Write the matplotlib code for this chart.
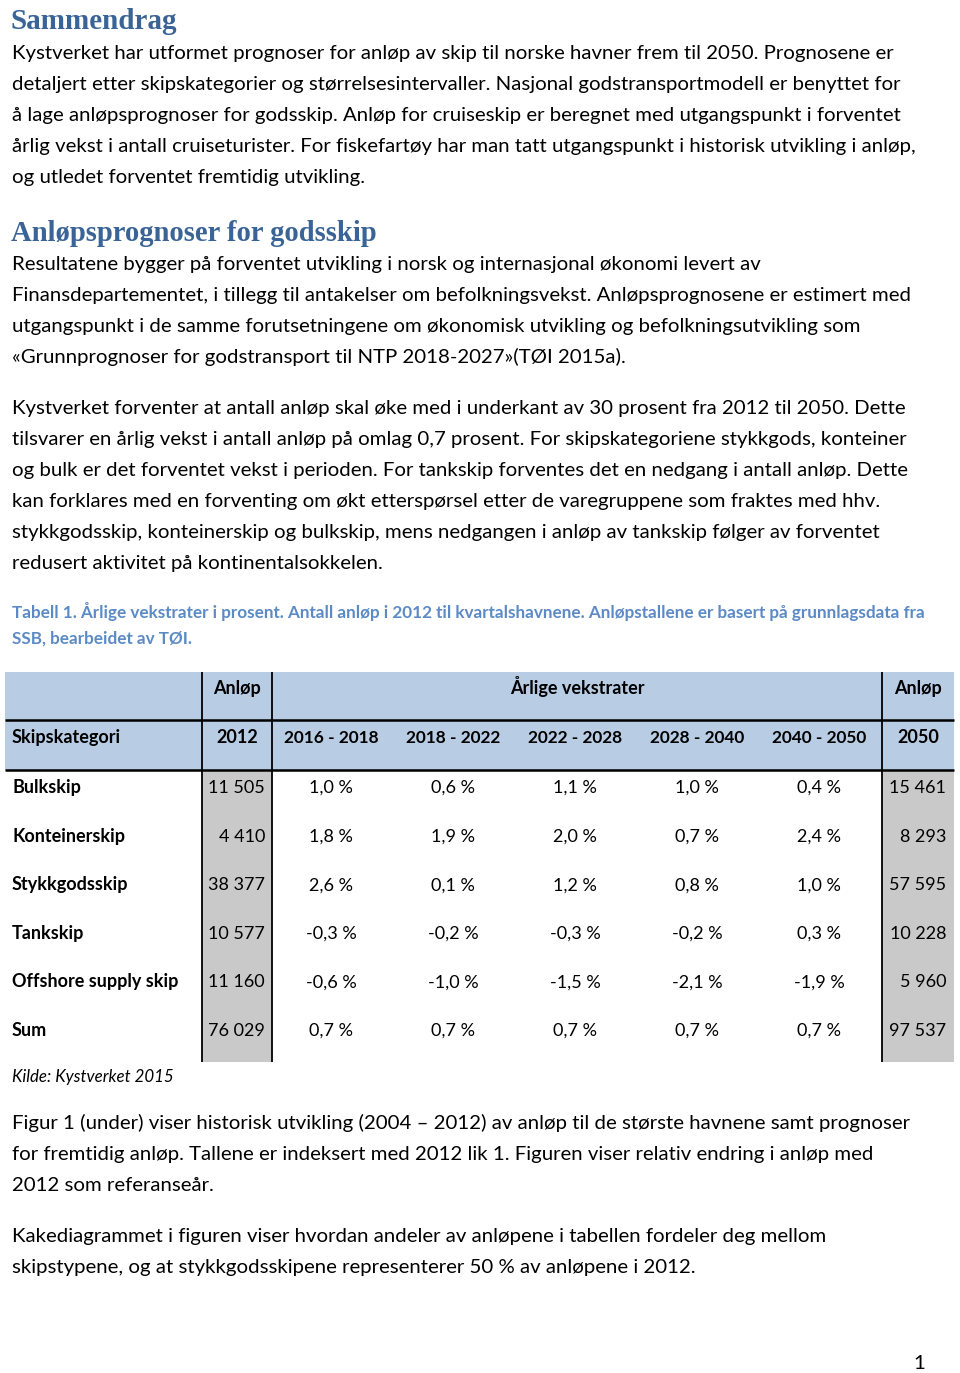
import matplotlib.pyplot as plt
from matplotlib.patches import Rectangle

W, H = 960, 1373
BODY = "Lato"
HEAD = "Liberation Serif"
HEAD_BLUE = "#3a6496"
CAP_BLUE = "#5b8ac5"

# table data
periods = ["2016 - 2018", "2018 - 2022", "2022 - 2028", "2028 - 2040", "2040 - 2050"]
categories = ["Bulkskip", "Konteinerskip", "Stykkgodsskip", "Tankskip",
              "Offshore supply skip", "Sum"]
anlop_2012 = [11505, 4410, 38377, 10577, 11160, 76029]
growth = [
    [1.0, 0.6, 1.1, 1.0, 0.4],
    [1.8, 1.9, 2.0, 0.7, 2.4],
    [2.6, 0.1, 1.2, 0.8, 1.0],
    [-0.3, -0.2, -0.3, -0.2, 0.3],
    [-0.6, -1.0, -1.5, -2.1, -1.9],
    [0.7, 0.7, 0.7, 0.7, 0.7],
]
anlop_2050 = [15461, 8293, 57595, 10228, 5960, 97537]

para1 = [
    "Kystverket har utformet prognoser for anløp av skip til norske havner frem til 2050. Prognosene er",
    "detaljert etter skipskategorier og størrelsesintervaller. Nasjonal godstransportmodell er benyttet for",
    "å lage anløpsprognoser for godsskip. Anløp for cruiseskip er beregnet med utgangspunkt i forventet",
    "årlig vekst i antall cruiseturister. For fiskefartøy har man tatt utgangspunkt i historisk utvikling i anløp,",
    "og utledet forventet fremtidig utvikling.",
]
para2 = [
    "Resultatene bygger på forventet utvikling i norsk og internasjonal økonomi levert av",
    "Finansdepartementet, i tillegg til antakelser om befolkningsvekst. Anløpsprognosene er estimert med",
    "utgangspunkt i de samme forutsetningene om økonomisk utvikling og befolkningsutvikling som",
    "«Grunnprognoser for godstransport til NTP 2018-2027»(TØI 2015a).",
]
para3 = [
    "Kystverket forventer at antall anløp skal øke med i underkant av 30 prosent fra 2012 til 2050. Dette",
    "tilsvarer en årlig vekst i antall anløp på omlag 0,7 prosent. For skipskategoriene stykkgods, konteiner",
    "og bulk er det forventet vekst i perioden. For tankskip forventes det en nedgang i antall anløp. Dette",
    "kan forklares med en forventing om økt etterspørsel etter de varegruppene som fraktes med hhv.",
    "stykkgodsskip, konteinerskip og bulkskip, mens nedgangen i anløp av tankskip følger av forventet",
    "redusert aktivitet på kontinentalsokkelen.",
]
caption = [
    "Tabell 1. Årlige vekstrater i prosent. Antall anløp i 2012 til kvartalshavnene. Anløpstallene er basert på grunnlagsdata fra",
    "SSB, bearbeidet av TØI.",
]
para4 = [
    "Figur 1 (under) viser historisk utvikling (2004 – 2012) av anløp til de største havnene samt prognoser",
    "for fremtidig anløp. Tallene er indeksert med 2012 lik 1. Figuren viser relativ endring i anløp med",
    "2012 som referanseår.",
]
para5 = [
    "Kakediagrammet i figuren viser hvordan andeler av anløpene i tabellen fordeler deg mellom",
    "skipstypene, og at stykkgodsskipene representerer 50 % av anløpene i 2012.",
]


def fmt_int(v):
    return f"{v:,}".replace(",", " ")


def fmt_pct(v):
    return f"{v:.1f}".replace(".", ",") + " %"


fig = plt.figure(figsize=(W / 100, H / 100), dpi=100)
ax = fig.add_axes([0, 0, 1, 1])
ax.set_xlim(0, W)
ax.set_ylim(H, 0)
ax.axis("off")

LX = 12
LH = 31
FS = 14.7


def block(lines, y0, **kw):
    for i, s in enumerate(lines):
        ax.text(LX, y0 + i * LH, s, fontsize=FS, family=BODY, va="baseline", **kw)


ax.text(LX - 1, 29, "Sammendrag", fontsize=21, family=HEAD, weight="bold",
        color=HEAD_BLUE, va="baseline")
block(para1, 59)
ax.text(LX - 1, 241, "Anløpsprognoser for godsskip", fontsize=20.6, family=HEAD,
        weight="bold", color=HEAD_BLUE, va="baseline")
block(para2, 270)
block(para3, 414)
for i, s in enumerate(caption):
    ax.text(LX, 618 + i * 26, s, fontsize=12.3, family=BODY, weight="bold",
            color=CAP_BLUE, va="baseline")

# table
x0, x1 = 5, 954
xc1, xc2, xc3 = 202, 272, 882
top, mid, hbot = 672, 720, 770
rh = 48.6
bottom = hbot + rh * len(categories) + 0.5
pw = (xc3 - xc2) / len(periods)

ax.add_patch(Rectangle((x0, top), x1 - x0, hbot - top, color="#b8cce4", lw=0))
ax.add_patch(Rectangle((xc1, hbot), xc2 - xc1, bottom - hbot, color="#c9c9c9", lw=0))
ax.add_patch(Rectangle((xc3, hbot), x1 - xc3, bottom - hbot, color="#c9c9c9", lw=0))
for y in (mid, hbot):
    ax.plot([x0, x1], [y, y], color="black", lw=1.8, solid_capstyle="butt")
for x in (xc1, xc2, xc3):
    ax.plot([x, x], [top, bottom], color="black", lw=1.3, solid_capstyle="butt")

bkw = dict(fontsize=13.0, family=BODY, va="baseline", weight="bold")
rkw = dict(fontsize=13.0, family=BODY, va="baseline")
ax.text((xc1 + xc2) / 2, 694, "Anløp", ha="center", **bkw)
ax.text((xc2 + xc3) / 2, 694, "Årlige vekstrater", ha="center", **bkw)
ax.text((xc3 + x1) / 2, 694, "Anløp", ha="center", **bkw)
ax.text(LX, 743, "Skipskategori", ha="left", **bkw)
ax.text((xc1 + xc2) / 2, 743, "2012", ha="center", **bkw)
ax.text((xc3 + x1) / 2, 743, "2050", ha="center", **bkw)
for j, p in enumerate(periods):
    ax.text(xc2 + pw * (j + 0.5) - 2, 743, p, ha="center",
            **{**bkw, "fontsize": 12.4})

for i, cat in enumerate(categories):
    y = 793 + rh * i
    ax.text(LX, y, cat, ha="left", **bkw)
    ax.text(xc2 - 7, y, fmt_int(anlop_2012[i]), ha="right", **rkw)
    ax.text(x1 - 8, y, fmt_int(anlop_2050[i]), ha="right", **rkw)
    for j, v in enumerate(growth[i]):
        ax.text(xc2 + pw * (j + 0.5) - 2, y, fmt_pct(v), ha="center", **rkw)

ax.text(LX, 1082, "Kilde: Kystverket 2015", fontsize=12.2, family=BODY,
        style="italic", va="baseline")
block(para4, 1129)
block(para5, 1242)
ax.text(919, 1369, "1", fontsize=FS, family=BODY, ha="center", va="baseline")

fig.savefig("out.png", dpi=100)
